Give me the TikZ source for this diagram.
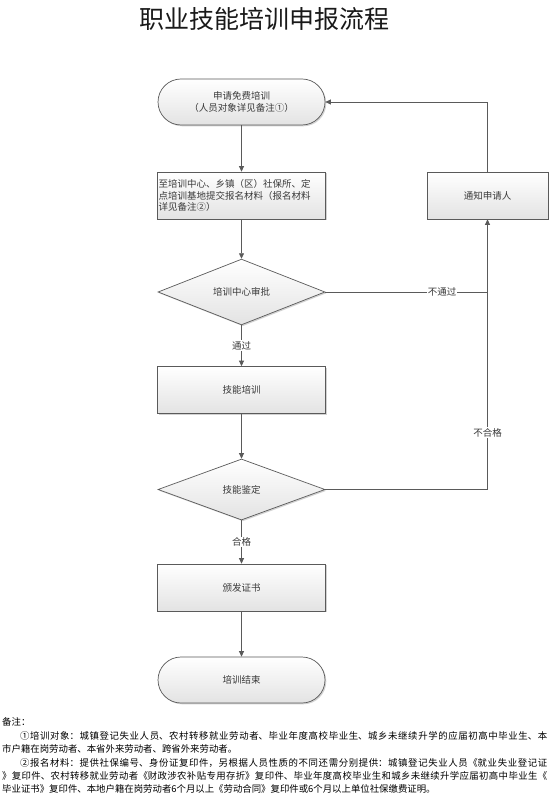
\documentclass[tikz,border=0pt]{standalone}
\usepackage{fontspec}
\setmainfont{Noto Sans CJK SC}
\usetikzlibrary{shapes.geometric,shapes.misc,arrows.meta,shadows}
\XeTeXlinebreaklocale "zh"
\XeTeXlinebreakskip=0pt plus 1pt
\definecolor{linec}{HTML}{5A5A5A}
\definecolor{txt}{HTML}{3A3A3A}
\newcommand{\notefont}{\fontsize{9.4}{12}\selectfont}
\begin{document}
\begin{tikzpicture}[x=1pt,y=-1pt,
  line/.style={draw=linec, line width=0.8pt},
  arr/.style={line, -{Triangle[length=5.5pt,width=5pt]}},
  shapebase/.style={draw=linec, line width=0.7pt, top color=white, bottom color=black!11,
    drop shadow={shadow xshift=1.3pt, shadow yshift=-1.3pt, fill=black!35, opacity=0.5},
    text=txt, font=\fontsize{9.5}{12}\selectfont, inner sep=0pt},
  term/.style={shapebase, rounded rectangle, minimum width=167pt, minimum height=46pt, align=center},
  proc/.style={shapebase, rectangle, minimum width=168pt, minimum height=47pt},
  dec/.style={shapebase, diamond, minimum width=167pt, minimum height=60pt},
  lbl/.style={fill=white, inner sep=1pt, text=txt, font=\fontsize{9.5}{12}\selectfont},
  note/.style={anchor=west, inner sep=0pt, text=black, font=\notefont}
]
\useasboundingbox[fill=white] (0,0) rectangle (553,799);

\node[font=\fontsize{25}{30}\selectfont, text=black!90] (title) at (264,19) {职业技能培训申报流程};

\node[term] (start) at (241.5,102) {申请免费培训\\（人员对象详见备注①）};
\node[proc, text width=166pt, align=left, inner xsep=1pt,
      font=\fontsize{9.5}{11.5}\selectfont] (r1) at (241.5,195.5)
  {至培训中心、乡镇（区）社保所、定\\点培训基地提交报名材料（报名材料\\详见备注②）};
\node[dec] (d1) at (241.5,292) {培训中心审批};
\node[proc, minimum width=121pt] (notify) at (487.5,195.5) {通知申请人};
\node[proc] (r2) at (241.5,390) {技能培训};
\node[dec, minimum height=61pt] (d2) at (241.5,489.5) {技能鉴定};
\node[proc] (r3) at (241.5,587.5) {颁发证书};
\node[term] (end) at (241.5,680) {培训结束};

\coordinate (j1) at (notify.south |- d1.east);

\draw[arr] (start.south) -- (r1.north);
\draw[arr] (r1.south) -- (d1.north);
\draw[line] (d1.east) -- node[lbl, pos=0.72] {不通过} (j1);
\draw[arr] (d2.east) -| node[lbl, pos=0.605] {不合格} (notify.south);
\draw[arr] (notify.north) |- (start.east);
\draw[arr] (d1.south) -- node[lbl] {通过} (r2.north);
\draw[arr] (r2.south) -- (d2.north);
\draw[arr] (d2.south) -- node[lbl] {合格} (r3.north);
\draw[arr] (r3.south) -- (end.north);

\node[note] (n0) at (2,722) {备注：};
\node[note] (n1) at (2,736) {\parbox{545pt}{\parfillskip=0pt\hspace*{18pt}①培训对象：城镇登记失业人员、农村转移就业劳动者、毕业年度高校毕业生、城乡未继续升学的应届初高中毕业生、本}};
\node[note] (n2) at (2,749) {市户籍在岗劳动者、本省外来劳动者、跨省外来劳动者。};
\node[note] (n3) at (2,763) {\parbox{545pt}{\parfillskip=0pt\hspace*{18pt}②报名材料：提供社保编号、身份证复印件，另根据人员性质的不同还需分别提供：城镇登记失业人员《就业失业登记证}};
\node[note] (n4) at (2,776) {\parbox{545pt}{\parfillskip=0pt》复印件、农村转移就业劳动者《财政涉农补贴专用存折》复印件、毕业年度高校毕业生和城乡未继续升学应届初高中毕业生《}};
\node[note] (n5) at (2,789) {毕业证书》复印件、本地户籍在岗劳动者6个月以上《劳动合同》复印件或6个月以上单位社保缴费证明。};
\end{tikzpicture}
\end{document}
